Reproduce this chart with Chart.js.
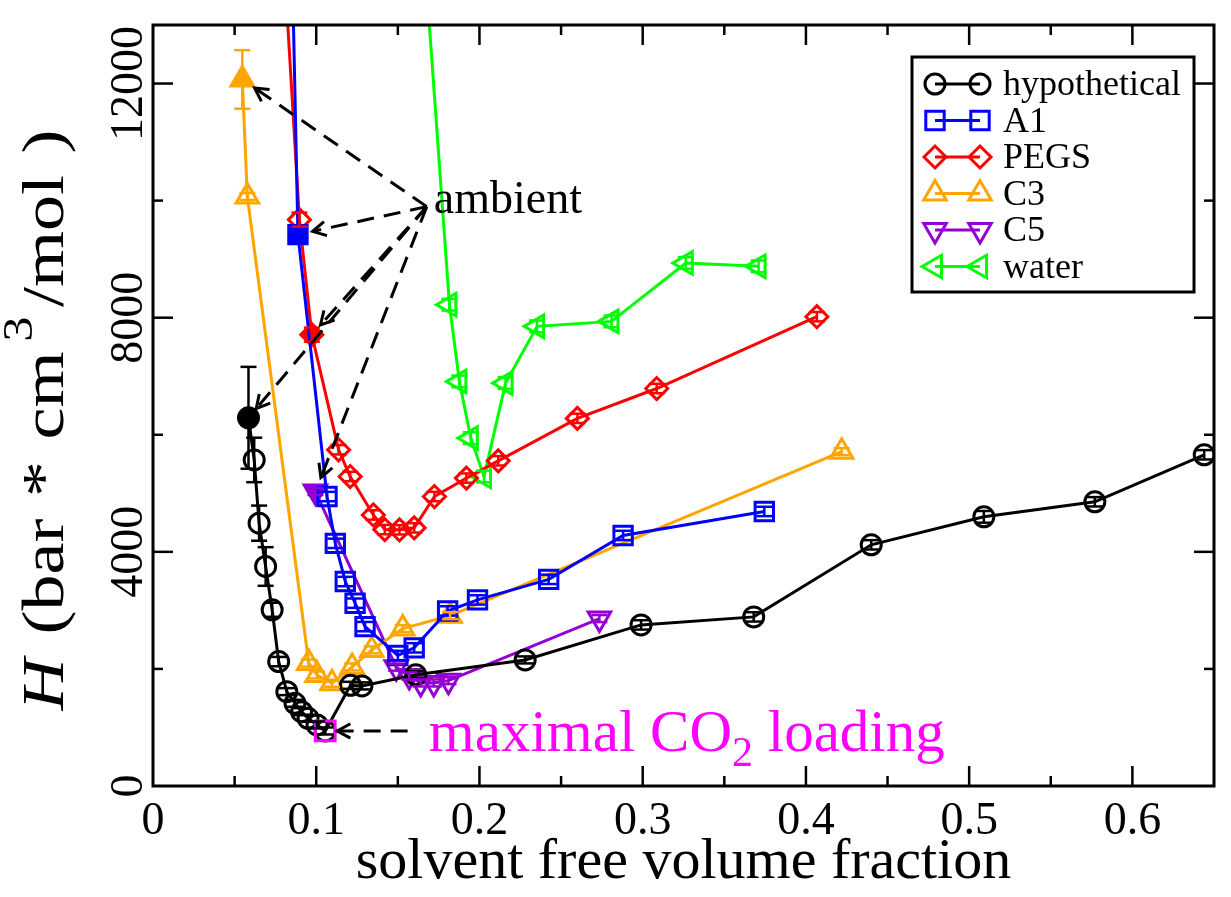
<!DOCTYPE html>
<html>
<head>
<meta charset="utf-8">
<script src="https://cdn.jsdelivr.net/npm/chart.js@4.4.0/dist/chart.umd.min.js"></script>
<style>
  html, body { margin: 0; padding: 0; background: #fff; }
  #wrap { width: 1231px; height: 897px; }
</style>
</head>
<body>
<div id="wrap"><canvas id="chart" width="1231" height="897"></canvas></div>
<script>
// solvent free volume fraction (x) vs H in bar*cm^3/mol (y)
var hypoX = [0.0585, 0.062, 0.065, 0.069, 0.073, 0.077, 0.082, 0.087, 0.091, 0.095, 0.1005, 0.1055,
    0.121, 0.128, 0.161, 0.228, 0.299, 0.368, 0.440, 0.509, 0.577, 0.644];
var hypoY = [6290, 5570, 4490, 3750, 3010, 2125, 1612, 1413, 1270, 1157, 1043, 940,
    1720, 1710, 1900, 2154, 2752, 2889, 4120, 4598, 4855, 5658];
var hypoErr = [870, 380, 300, 330, 120, 80, 60, 60, 60, 60, 60, 60,
    60, 60, 60, 60, 80, 80, 80, 100, 80, 80];

var a1X = [0.083, 0.0888, 0.1066, 0.1117, 0.1178, 0.1238, 0.1299, 0.150, 0.160, 0.1805, 0.1988, 0.2424, 0.288, 0.3745];
var a1Y = [17000, 9420, 4945, 4145, 3493, 3123, 2723, 2230, 2360, 2990, 3179, 3530, 4280, 4690];
var a1Err = [0, 80, 80, 80, 80, 80, 80, 80, 80, 80, 80, 80, 80, 80];

var pegsX = [0.074, 0.0897, 0.0973, 0.1137, 0.1208, 0.135, 0.142, 0.151, 0.160, 0.1724, 0.192, 0.2115, 0.260, 0.3086, 0.4067];
var pegsY = [17000, 9675, 7710, 5744, 5287, 4630, 4380, 4376, 4410, 4945, 5260, 5555, 6280, 6790, 8017];
var pegsErr = [0, 120, 120, 80, 80, 80, 80, 80, 80, 80, 80, 80, 80, 80, 80];

var c3X = [0.0547, 0.0578, 0.0954, 0.1005, 0.1096, 0.122, 0.134, 0.153, 0.182, 0.4219];
var c3Y = [12070, 10070, 2100, 1897, 1755, 2034, 2325, 2690, 2910, 5712];
var c3Err = [500, 60, 60, 60, 60, 60, 60, 60, 60, 60];

var c5X = [0.0995, 0.149, 0.157, 0.164, 0.172, 0.181, 0.2735];
var c5Y = [5030, 2030, 1880, 1760, 1760, 1800, 2860];
var c5Err = [60, 60, 60, 60, 60, 60, 60];

var waterX = [0.159, 0.1816, 0.1877, 0.1947, 0.2028, 0.216, 0.2353, 0.2809, 0.3264, 0.371];
var waterY = [17000, 8222, 6911, 5943, 5287, 6883, 7852, 7937, 8935, 8878];
var waterErr = [0, 100, 100, 100, 100, 100, 100, 100, 100, 100];

// index of the filled "ambient" point in each series
var ambientIdx = { hypothetical: 0, A1: 1, PEGS: 2, C3: 0, C5: 0 };

var xTickLabels = ["0", "0.1", "0.2", "0.3", "0.4", "0.5", "0.6"];
var yTickLabels = ["0", "4000", "8000", "12000"];

var FONT = "'Liberation Serif', 'Times New Roman', serif";

function pts(xs, ys) {
    return xs.map(function (x, i) { return { x: x, y: ys[i] }; });
}

function series(label, xs, ys, color, style, radius, rotation) {
    var fillIdx = ambientIdx[label];
    return {
        label: label,
        data: pts(xs, ys),
        showLine: true,
        borderColor: color,
        backgroundColor: color,
        borderWidth: 3,
        pointStyle: style,
        pointRadius: radius,
        pointHoverRadius: radius,
        pointRotation: rotation || 0,
        pointBorderWidth: 3,
        pointBorderColor: color,
        pointBackgroundColor: function (c) {
            return c.dataIndex === fillIdx ? color : "rgba(0,0,0,0)";
        },
    };
}

var datasets = [
    series("hypothetical", hypoX, hypoY, "#000000", "circle", 10),
    series("A1", a1X, a1Y, "#0000ff", "rect", 13),
    series("PEGS", pegsX, pegsY, "#ff0000", "rectRot", 11),
    series("C3", c3X, c3Y, "#ffa500", "triangle", 13),
    series("C5", c5X, c5Y, "#9400d3", "triangle", 13, 180),
    series("water", waterX, waterY, "#00ff00", "triangle", 13, 270),
];

// magenta square on the minimum of the hypothetical curve
var minIdx = hypoY.indexOf(Math.min.apply(null, hypoY));
datasets.unshift({
    label: "maxload",
    data: [{ x: hypoX[minIdx], y: hypoY[minIdx] }],
    showLine: false,
    pointStyle: "rect",
    pointRadius: 14,
    pointBorderWidth: 3,
    pointBorderColor: "#ff00ff",
    pointBackgroundColor: "rgba(0,0,0,0)",
});

function line(ctx, x1, y1, x2, y2) {
    ctx.beginPath();
    ctx.moveTo(x1, y1);
    ctx.lineTo(x2, y2);
    ctx.stroke();
}

function dashedArrow(ctx, x1, y1, x2, y2) {
    ctx.save();
    ctx.strokeStyle = "#000";
    ctx.lineWidth = 3;
    ctx.setLineDash([17, 10]);
    line(ctx, x1, y1, x2, y2);
    ctx.setLineDash([]);
    var ang = Math.atan2(y2 - y1, x2 - x1);
    var L = 15, w = 0.5;
    ctx.beginPath();
    ctx.moveTo(x2 - L * Math.cos(ang - w), y2 - L * Math.sin(ang - w));
    ctx.lineTo(x2, y2);
    ctx.lineTo(x2 - L * Math.cos(ang + w), y2 - L * Math.sin(ang + w));
    ctx.stroke();
    ctx.restore();
}

var errorBars = [
    { ds: "hypothetical", err: hypoErr, color: "#000000" },
    { ds: "A1", err: a1Err, color: "#0000ff" },
    { ds: "PEGS", err: pegsErr, color: "#ff0000" },
    { ds: "C3", err: c3Err, color: "#ffa500" },
    { ds: "C5", err: c5Err, color: "#9400d3" },
    { ds: "water", err: waterErr, color: "#00ff00" },
];

var decor = {
    id: "decor",
    afterDatasetsDraw: function (chart) {
        var ctx = chart.ctx, xs = chart.scales.x, ys = chart.scales.y, a = chart.chartArea;
        ctx.save();
        ctx.beginPath();
        ctx.rect(a.left, a.top, a.right - a.left, a.bottom - a.top);
        ctx.clip();
        errorBars.forEach(function (eb) {
            var ds = chart.data.datasets.find(function (d) { return d.label === eb.ds; });
            ctx.strokeStyle = eb.color;
            ctx.lineWidth = 2.5;
            ds.data.forEach(function (p, i) {
                if (!eb.err[i]) return;
                var px = xs.getPixelForValue(p.x);
                var top = ys.getPixelForValue(p.y + eb.err[i]);
                var bot = ys.getPixelForValue(p.y - eb.err[i]);
                line(ctx, px, top, px, bot);
                line(ctx, px - 8, top, px + 8, top);
                line(ctx, px - 8, bot, px + 8, bot);
            });
        });
        ctx.restore();
    },
    afterDraw: function (chart) {
        var ctx = chart.ctx, xs = chart.scales.x, ys = chart.scales.y, a = chart.chartArea;
        ctx.save();
        ctx.strokeStyle = "#000";
        ctx.fillStyle = "#000";

        // frame
        ctx.lineWidth = 3;
        ctx.strokeRect(a.left, a.top, a.right - a.left, a.bottom - a.top);

        // inward ticks on all four sides
        ctx.lineWidth = 2.5;
        xs.ticks.forEach(function (t) {
            var v = t.value;
            if (v <= xs.min + 1e-9 || v >= xs.max - 1e-9) return;
            var px = xs.getPixelForValue(v);
            var major = Math.abs(v * 10 - Math.round(v * 10)) < 1e-6;
            var len = major ? 20 : 10;
            line(ctx, px, a.bottom, px, a.bottom - len);
            line(ctx, px, a.top, px, a.top + len);
        });
        ys.ticks.forEach(function (t) {
            var v = t.value;
            if (v <= ys.min || v >= ys.max || v % 2000 !== 0) return;
            var py = ys.getPixelForValue(v);
            var len = v % 4000 === 0 ? 20 : 10;
            line(ctx, a.left, py, a.left + len, py);
            line(ctx, a.right, py, a.right - len, py);
        });

        // tick labels
        ctx.font = "46px " + FONT;
        ctx.textAlign = "center";
        ctx.textBaseline = "alphabetic";
        xTickLabels.forEach(function (s) {
            ctx.fillText(s, xs.getPixelForValue(parseFloat(s)), a.bottom + 48);
        });
        yTickLabels.forEach(function (s) {
            ctx.save();
            ctx.translate(a.left - 11, ys.getPixelForValue(parseFloat(s)));
            ctx.rotate(-Math.PI / 2);
            ctx.fillText(s, 0, 0);
            ctx.restore();
        });

        // axis titles
        ctx.font = "58px " + FONT;
        ctx.fillText("solvent free volume fraction", (a.left + a.right) / 2, 878);

        ctx.save();
        ctx.translate(63, 420);
        ctx.rotate(-Math.PI / 2);
        ctx.scale(1.2, 1);
        ctx.textAlign = "left";
        var parts = [
            { t: "H", f: "italic 60px " + FONT, dy: 0, gap: 20 },
            { t: "(bar", f: "60px " + FONT, dy: 0, gap: 18 },
            { t: "*", f: "60px " + FONT, dy: 0, gap: 18 },
            { t: "cm", f: "60px " + FONT, dy: 0, gap: 8 },
            { t: "3", f: "42px " + FONT, dy: -31, gap: 8 },
            { t: "/mol", f: "60px " + FONT, dy: 0, gap: 18 },
            { t: ")", f: "60px " + FONT, dy: 0, gap: 0 },
        ];
        var total = 0;
        parts.forEach(function (p) { ctx.font = p.f; p.w = ctx.measureText(p.t).width; total += p.w + p.gap; });
        var cx = -total / 2;
        parts.forEach(function (p) { ctx.font = p.f; ctx.fillText(p.t, cx, p.dy); cx += p.w + p.gap; });
        ctx.restore();

        // "ambient" annotation with arrows to the filled points
        var ax = xs.getPixelForValue(0.172), ay = ys.getPixelForValue(10000);
        ctx.font = "46px " + FONT;
        ctx.textAlign = "left";
        ctx.textBaseline = "middle";
        ctx.fillText("ambient", ax, ay);
        chart.data.datasets.forEach(function (ds) {
            var idx = ambientIdx[ds.label];
            if (idx === undefined) return;
            var p = ds.data[idx];
            var tx = xs.getPixelForValue(p.x), ty = ys.getPixelForValue(p.y);
            var ox = ax - 7, oy = ay + 6;
            var d = Math.hypot(ox - tx, oy - ty);
            var off = ds.pointRadius + 2;
            dashedArrow(ctx, ox, oy, tx + (ox - tx) / d * off, ty + (oy - ty) / d * off);
        });

        // maximal CO2 loading annotation
        var mx = xs.getPixelForValue(hypoX[minIdx]), my = ys.getPixelForValue(hypoY[minIdx]);
        dashedArrow(ctx, xs.getPixelForValue(0.156), my, mx + 12, my);
        ctx.fillStyle = "#ff00ff";
        ctx.textBaseline = "alphabetic";
        var tx0 = xs.getPixelForValue(0.169), tb = my + 20;
        ctx.font = "59px " + FONT;
        ctx.fillText("maximal CO", tx0, tb);
        tx0 += ctx.measureText("maximal CO").width;
        ctx.font = "42px " + FONT;
        ctx.fillText("2", tx0, tb + 15);
        tx0 += ctx.measureText("2").width;
        ctx.font = "59px " + FONT;
        ctx.fillText(" loading", tx0, tb);

        // legend box
        var lx = 912, ly = 57, lw = 282, lh = 235;
        ctx.fillStyle = "#fff";
        ctx.fillRect(lx, ly, lw, lh);
        ctx.strokeStyle = "#000";
        ctx.lineWidth = 3;
        ctx.strokeRect(lx, ly, lw, lh);
        ctx.font = "36px " + FONT;
        ctx.textBaseline = "middle";
        ctx.textAlign = "left";
        var row = 0;
        chart.data.datasets.forEach(function (ds) {
            if (ds.label === "maxload") return;
            var y = ly + 27 + row * 36.5;
            ctx.strokeStyle = ds.borderColor;
            ctx.lineWidth = 3;
            line(ctx, 935, y, 980, y);
            ctx.fillStyle = "rgba(0,0,0,0)";
            [935, 980].forEach(function (x) {
                Chart.helpers.drawPoint(ctx, {
                    pointStyle: ds.pointStyle,
                    radius: ds.pointRadius,
                    rotation: ds.pointRotation,
                    borderWidth: 3,
                }, x, y);
            });
            ctx.fillStyle = "#000";
            ctx.fillText(ds.label, 1003, y + 2);
            row++;
        });
        ctx.restore();
    },
};

new Chart(document.getElementById("chart"), {
    type: "scatter",
    data: { datasets: datasets },
    options: {
        responsive: false,
        animation: false,
        devicePixelRatio: 1,
        layout: { padding: { left: 0, top: 25, right: 7, bottom: 0 } },
        plugins: { legend: { display: false }, tooltip: { enabled: false } },
        scales: {
            x: {
                type: "linear",
                min: 0,
                max: 0.65,
                ticks: { display: false, stepSize: 0.05 },
                grid: { display: false },
                border: { display: false },
                afterFit: function (s) { s.height = 111; },
            },
            y: {
                min: 0,
                max: 13000,
                ticks: { display: false, stepSize: 1000 },
                grid: { display: false },
                border: { display: false },
                afterFit: function (s) { s.width = 153; },
            },
        },
    },
    plugins: [decor],
});
</script>
</body>
</html>
